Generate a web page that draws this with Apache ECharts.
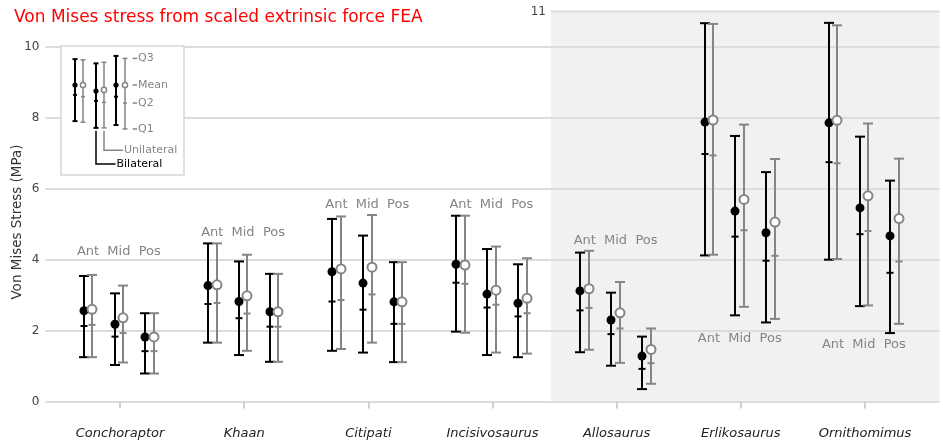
<!DOCTYPE html>
<html><head><meta charset="utf-8">
<script src="https://cdn.jsdelivr.net/npm/echarts@6/dist/echarts.min.js"></script>
<style>html,body{margin:0;padding:0;background:#fff}#c{width:943px;height:447px}</style>
</head><body><div id="c"></div>
<script>
// ---------------- data ----------------
const taxa = ['Conchoraptor', 'Khaan', 'Citipati', 'Incisivosaurus', 'Allosaurus', 'Erlikosaurus', 'Ornithomimus'];
const positions = ['Ant', 'Mid', 'Pos'];
const yTickValues = [0, 2, 4, 6, 8, 10];
const shadedTopLabel = 11;

// order: taxon by taxon, Ant / Mid / Pos
const bilateralQ1 = [1.25, 1.03, 0.79, 1.66, 1.31, 1.12, 1.43, 1.38, 1.11, 1.97, 1.31, 1.25, 1.39, 1.01, 0.35, 4.12, 2.43, 2.23, 4.00, 2.69, 1.93];
const bilateralMedian = [2.13, 1.83, 1.42, 2.75, 2.35, 2.11, 2.82, 2.59, 2.19, 3.35, 2.65, 2.40, 2.57, 1.90, 0.92, 6.98, 4.65, 3.97, 6.75, 4.72, 3.63];
const bilateralMean = [2.56, 2.18, 1.82, 3.27, 2.82, 2.53, 3.66, 3.34, 2.81, 3.87, 3.03, 2.77, 3.12, 2.30, 1.28, 7.88, 5.37, 4.76, 7.86, 5.46, 4.67];
const bilateralQ3 = [3.54, 3.05, 2.49, 4.46, 3.95, 3.60, 5.15, 4.68, 3.93, 5.24, 4.30, 3.87, 4.20, 3.07, 1.83, 10.67, 7.49, 6.47, 10.68, 7.47, 6.23];

const unilateralQ1 = [1.25, 1.10, 0.79, 1.66, 1.43, 1.12, 1.48, 1.66, 1.11, 1.94, 1.38, 1.35, 1.46, 1.09, 0.50, 4.14, 2.67, 2.33, 4.02, 2.71, 2.19];
const unilateralMedian = [2.16, 1.93, 1.42, 2.78, 2.48, 2.11, 2.86, 3.02, 2.19, 3.32, 2.73, 2.49, 2.64, 2.06, 1.08, 6.94, 4.83, 4.11, 6.72, 4.81, 3.95];
const unilateralMean = [2.60, 2.36, 1.82, 3.29, 2.98, 2.53, 3.74, 3.79, 2.81, 3.85, 3.14, 2.91, 3.18, 2.50, 1.47, 7.94, 5.70, 5.06, 7.93, 5.80, 5.16];
const unilateralQ3 = [3.57, 3.27, 2.49, 4.46, 4.14, 3.60, 5.22, 5.26, 3.93, 5.24, 4.37, 4.04, 4.25, 3.37, 2.06, 10.65, 7.81, 6.84, 10.61, 7.84, 6.85];

// y value at which each taxon's Ant/Mid/Pos labels sit
const groupLabelY = [4.23, 4.76, 5.55, 5.55, 4.54, 1.77, 1.61];

// schematic key (inset)
const keyBilateralQ1 = [7.91, 7.72, 7.80];
const keyBilateralMedian = [8.65, 8.48, 8.60];
const keyBilateralMean = [8.93, 8.76, 8.93];
const keyBilateralQ3 = [9.66, 9.54, 9.75];
const keyUnilateralQ1 = [7.88, 7.72, 7.69];
const keyUnilateralMedian = [8.60, 8.44, 8.42];
const keyUnilateralMean = [8.93, 8.79, 8.93];
const keyUnilateralQ3 = [9.64, 9.57, 9.68];
const keyStatLabels = ['Q3', 'Mean', 'Q2', 'Q1'];
const keySeriesLabels = ['Unilateral', 'Bilateral'];

// ---------------- layout ----------------
const FONT = 'DejaVu Sans';
const BLACK = '#000000';
const GREY = '#858585';
const posOffset = [-0.257, -0.009, 0.24];
const sideOffset = 0.035;
const shadedStart = 3.47;
const xMin = -0.6, xMax = 6.6;

function buildData(q1, med, mean, q3, side) {
  const out = [];
  for (let t = 0; t < taxa.length; t++) {
    for (let p = 0; p < positions.length; p++) {
      const i = t * positions.length + p;
      out.push([t + posOffset[p] + side, q1[i], med[i], mean[i], q3[i]]);
    }
  }
  return out;
}

function errorBarShapes(api, x, q1, med, mean, q3, color, filled, capHalf, medHalf, r, lw) {
  const pTop = api.coord([x, q3]);
  const pBot = api.coord([x, q1]);
  const pMed = api.coord([x, med]);
  const pMean = api.coord([x, mean]);
  const cx = Math.round(pTop[0]);
  const st = { stroke: color, lineWidth: lw };
  return [
    { type: 'line', shape: { x1: cx, y1: pTop[1], x2: cx, y2: pBot[1] }, style: st },
    { type: 'line', shape: { x1: cx - capHalf, y1: pTop[1], x2: cx + capHalf, y2: pTop[1] }, style: st },
    { type: 'line', shape: { x1: cx - capHalf, y1: pBot[1], x2: cx + capHalf, y2: pBot[1] }, style: st },
    { type: 'line', shape: { x1: cx - medHalf, y1: pMed[1], x2: cx + medHalf, y2: pMed[1] }, style: st },
    { type: 'circle', shape: { cx: cx, cy: pMean[1], r: r },
      style: filled ? { fill: color } : { fill: '#ffffff', stroke: color, lineWidth: lw } }
  ];
}

function barRenderer(color, filled) {
  return function (params, api) {
    return {
      type: 'group',
      children: errorBarShapes(api, api.value(0), api.value(1), api.value(2), api.value(3), api.value(4),
        color, filled, 5, 3.5, 4.5, 2)
    };
  };
}

const labelData = [];
for (let t = 0; t < taxa.length; t++) {
  for (let p = 0; p < positions.length; p++) {
    labelData.push([t + posOffset[p], groupLabelY[t], positions[p]]);
  }
}

// key inset x layout (in inset axis units = px)
const keyPairX = [18.2, 39, 59.5];
const keySide = 4.2;

function renderKey(params, api) {
  const cs = params.coordSys;
  const children = [];
  children.push({ type: 'rect', shape: { x: cs.x, y: cs.y, width: cs.width, height: cs.height },
    style: { fill: '#ffffff', stroke: '#d6d6d6', lineWidth: 1.5 } });
  for (let k = 0; k < 3; k++) {
    children.push(...errorBarShapes(api, keyPairX[k] - keySide, keyBilateralQ1[k], keyBilateralMedian[k],
      keyBilateralMean[k], keyBilateralQ3[k], BLACK, true, 2.5, 2, 2.6, 2));
    children.push(...errorBarShapes(api, keyPairX[k] + keySide, keyUnilateralQ1[k], keyUnilateralMedian[k],
      keyUnilateralMean[k], keyUnilateralQ3[k], GREY, false, 2.5, 2, 2.6, 1.5));
  }
  const statVals = [keyUnilateralQ3[2], keyUnilateralMean[2], keyUnilateralMedian[2], keyUnilateralQ1[2]];
  for (let s = 0; s < 4; s++) {
    const a = api.coord([71.7, statVals[s]]);
    const b = api.coord([76, statVals[s]]);
    children.push({ type: 'line', shape: { x1: a[0], y1: a[1], x2: b[0], y2: b[1] }, style: { stroke: GREY, lineWidth: 1.5 } });
    children.push({ type: 'text', x: b[0] + 1, y: b[1],
      style: { text: keyStatLabels[s], fill: GREY, fontSize: 11, fontFamily: FONT, align: 'left', verticalAlign: 'middle' } });
  }
  const conn = [
    { x: keyPairX[1] + keySide, from: keyUnilateralQ1[1], y: 7.09, x2: 62, color: GREY, text: keySeriesLabels[0] },
    { x: keyPairX[1] - keySide, from: keyBilateralQ1[1], y: 6.70, x2: 54.5, color: BLACK, text: keySeriesLabels[1] }
  ];
  conn.forEach(function (c) {
    const p0 = api.coord([c.x, c.from]);
    const p1 = api.coord([c.x, c.y]);
    const p2 = api.coord([c.x2, c.y]);
    const cx = Math.round(p0[0]);
    children.push({ type: 'polyline', shape: { points: [[cx, p0[1] + 3], [cx, p1[1]], [p2[0], p1[1]]] },
      style: { stroke: c.color, lineWidth: 1.5, fill: null } });
    children.push({ type: 'text', x: p2[0] + 1, y: p1[1],
      style: { text: c.text, fill: c.color, fontSize: 11, fontFamily: FONT, align: 'left', verticalAlign: 'middle' } });
  });
  return { type: 'group', children: children };
}

function renderShade(params, api) {
  const p0 = api.coord([shadedStart, shadedTopLabel]);
  const p1 = api.coord([xMax, 0]);
  return {
    type: 'group', children: [
      { type: 'rect', shape: { x: p0[0], y: p0[1], width: p1[0] - p0[0], height: p1[1] - p0[1] }, style: { fill: '#f1f1f1' } },
      { type: 'line', shape: { x1: p0[0], y1: p0[1], x2: p1[0], y2: p0[1] }, style: { stroke: '#dcdcdc', lineWidth: 2 } }
    ]
  };
}

const chart = echarts.init(document.getElementById('c'), null, { renderer: 'canvas' });
const option = {
  animation: false,
  backgroundColor: '#ffffff',
  textStyle: { fontFamily: FONT },
  title: {
    text: 'Von Mises stress from scaled extrinsic force FEA',
    left: 9, top: 4,
    textStyle: { color: '#ff0000', fontSize: 17, fontWeight: 'normal', fontFamily: FONT }
  },
  grid: [
    { left: 45.5, right: 3.5, top: 11.5, bottom: 45.5 },
    { left: 61, top: 46, width: 123, height: 129 }
  ],
  xAxis: [
    {
      type: 'value', gridIndex: 0, min: xMin, max: xMax, offset: 15,
      axisLine: { show: false },
      splitLine: { show: false },
      axisTick: { show: true, length: 7, lineStyle: { color: '#d0d0d0', width: 2 },
        customValues: taxa.map(function (_, i) { return i; }) },
      axisLabel: { margin: 11, color: '#222', fontSize: 13, fontStyle: 'italic', fontFamily: FONT,
        customValues: taxa.map(function (_, i) { return i; }),
        formatter: function (v) { return taxa[Math.round(v)] || ''; } }
    },
    { type: 'value', gridIndex: 1, min: 0, max: 123, show: false }
  ],
  yAxis: [
    {
      type: 'value', gridIndex: 0, min: 0, max: shadedTopLabel, interval: 2,
      axisLine: { show: false }, axisTick: { show: false },
      axisLabel: { margin: 6, color: '#444', fontSize: 12, fontFamily: FONT,
        formatter: function (v) { return yTickValues.indexOf(v) >= 0 ? String(v) : ''; } },
      splitLine: { show: true, showMaxLine: false, lineStyle: { color: '#dcdcdc', width: 2 } }
    },
    {
      type: 'value', gridIndex: 0, min: 0, max: shadedTopLabel, interval: shadedTopLabel,
      position: 'left', offset: 45.5 - 550.9,
      axisLine: { show: false }, axisTick: { show: false }, splitLine: { show: false },
      axisLabel: { margin: 5, color: '#444', fontSize: 12, fontFamily: FONT, showMinLabel: false,
        formatter: function (v) { return v === shadedTopLabel ? String(shadedTopLabel) : ''; } }
    },
    { type: 'value', gridIndex: 1, min: 6.39, max: 10.03, show: false }
  ],
  graphic: [
    { type: 'text',
      rotation: Math.PI / 2,
      x: 17, y: 222,
      style: { text: 'Von Mises Stress (MPa)', fill: '#333', fontSize: 13.5, fontFamily: FONT, align: 'center', verticalAlign: 'middle' } }
  ],
  series: [
    { type: 'custom', name: 'shade', xAxisIndex: 0, yAxisIndex: 0, z: -1, silent: true,
      data: [[shadedStart, 0]], renderItem: renderShade },
    { type: 'custom', name: 'Bilateral', xAxisIndex: 0, yAxisIndex: 0, z: 3,
      data: buildData(bilateralQ1, bilateralMedian, bilateralMean, bilateralQ3, -sideOffset),
      renderItem: barRenderer(BLACK, true) },
    { type: 'custom', name: 'Unilateral', xAxisIndex: 0, yAxisIndex: 0, z: 3,
      data: buildData(unilateralQ1, unilateralMedian, unilateralMean, unilateralQ3, sideOffset),
      renderItem: barRenderer(GREY, false) },
    { type: 'custom', name: 'labels', xAxisIndex: 0, yAxisIndex: 0, z: 3,
      data: labelData,
      renderItem: function (params, api) {
        const p = api.coord([api.value(0), api.value(1)]);
        return { type: 'text', x: p[0], y: p[1],
          style: { text: labelData[params.dataIndex][2], fill: GREY, fontSize: 13, fontFamily: FONT, align: 'center', verticalAlign: 'middle' } };
      } },
    { type: 'custom', name: 'key', xAxisIndex: 1, yAxisIndex: 2, z: 5, clip: false,
      data: [[0, 8]], renderItem: renderKey }
  ]
};
chart.setOption(option);
</script></body></html>
